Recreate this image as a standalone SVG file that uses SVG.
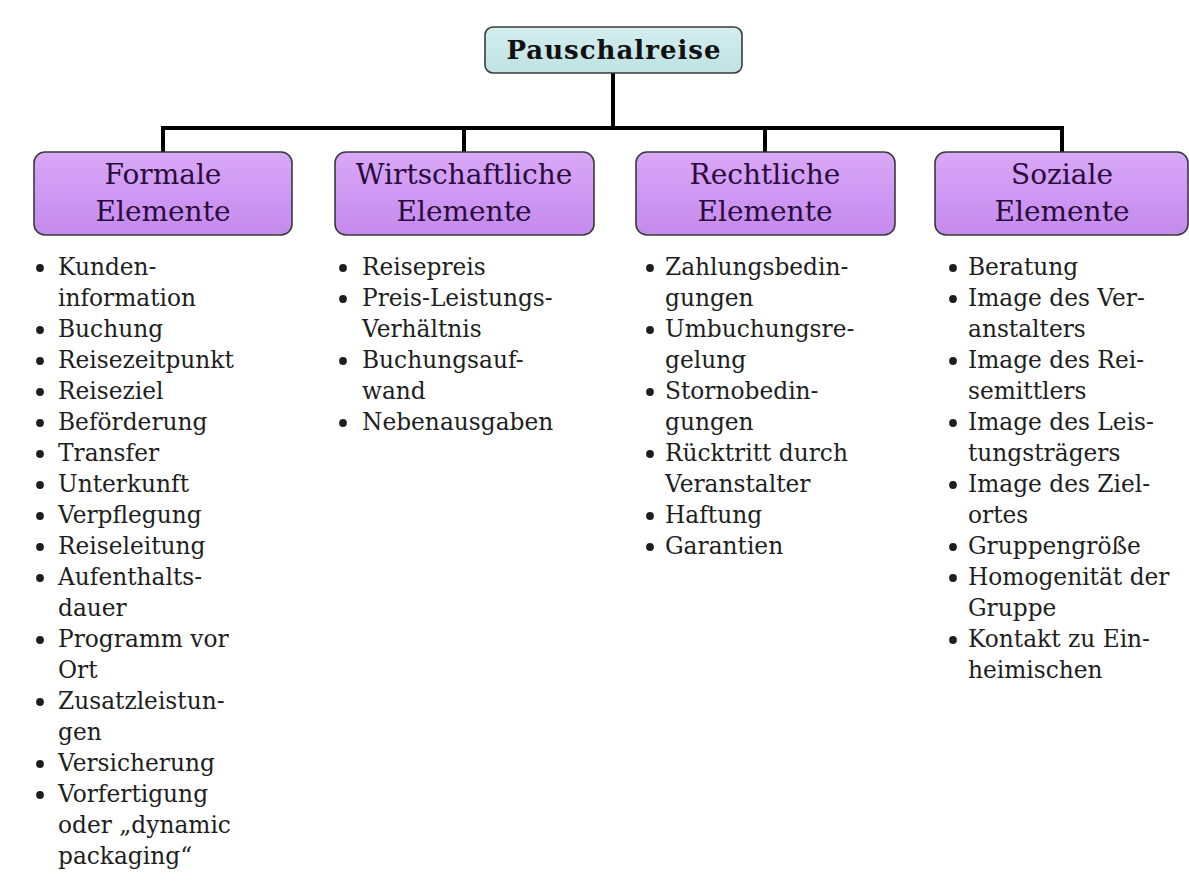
<svg xmlns="http://www.w3.org/2000/svg" xmlns:xlink="http://www.w3.org/1999/xlink" width="1189" height="881" viewBox="0 0 1189 881">
<defs>
<linearGradient id="gTop" x1="0" y1="0" x2="0" y2="1">
<stop offset="0" stop-color="#d4eeee"/><stop offset="1" stop-color="#bfe2e2"/>
</linearGradient>
<linearGradient id="gCat" x1="0" y1="0" x2="0" y2="1">
<stop offset="0" stop-color="#d9a8f7"/><stop offset="0.5" stop-color="#cf98f3"/><stop offset="1" stop-color="#c48aec"/>
</linearGradient>
<circle id="b" r="3.9" fill="#1e1e1e"/>
</defs>
<style>
.top{fill:url(#gTop);stroke:#3a3a3a;stroke-width:1.6}
.cat{fill:url(#gCat);stroke:#3a3a3a;stroke-width:1.6}
.tt{font-family:"DejaVu Serif",serif;font-weight:bold;font-size:26px;letter-spacing:1px;fill:#111;text-anchor:middle}
.ct{font-family:"DejaVu Serif",serif;font-size:28px;fill:#2a0c3c;text-anchor:middle}
.li{font-family:"DejaVu Serif",serif;font-size:23.3px;fill:#1e1e1e}
.con{stroke:#000;stroke-width:4;fill:none}
</style>
<rect width="1189" height="881" fill="#fff"/>
<g id="connectors">
<line class="con" x1="613" y1="73" x2="613" y2="128"/>
<line class="con" x1="161" y1="128" x2="1064" y2="128"/>
<line class="con" x1="163" y1="126" x2="163" y2="152"/>
<line class="con" x1="464" y1="126" x2="464" y2="152"/>
<line class="con" x1="765" y1="126" x2="765" y2="152"/>
<line class="con" x1="1062" y1="126" x2="1062" y2="152"/>
</g>
<g id="pauschalreise">
<rect class="top" x="485" y="27" width="257" height="46" rx="8"/>
<text class="tt" x="614" y="59">Pauschalreise</text>
</g>
<g id="formale">
<rect class="cat" x="34" y="152" width="258" height="83" rx="11"/>
<text class="ct" x="163" y="184">Formale</text>
<text class="ct" x="163" y="221">Elemente</text>
</g>
<g id="wirtschaftliche">
<rect class="cat" x="335" y="152" width="259" height="83" rx="11"/>
<text class="ct" x="464" y="184">Wirtschaftliche</text>
<text class="ct" x="464" y="221">Elemente</text>
</g>
<g id="rechtliche">
<rect class="cat" x="636" y="152" width="259" height="83" rx="11"/>
<text class="ct" x="765" y="184">Rechtliche</text>
<text class="ct" x="765" y="221">Elemente</text>
</g>
<g id="soziale">
<rect class="cat" x="935" y="152" width="253" height="83" rx="11"/>
<text class="ct" x="1062" y="184">Soziale</text>
<text class="ct" x="1062" y="221">Elemente</text>
</g>
<g id="formale-list">
<use xlink:href="#b" x="40" y="268"/><text class="li" x="58" y="275">Kunden-</text>
<text class="li" x="58" y="306">information</text>
<use xlink:href="#b" x="40" y="330"/><text class="li" x="58" y="337">Buchung</text>
<use xlink:href="#b" x="40" y="361"/><text class="li" x="58" y="368">Reisezeitpunkt</text>
<use xlink:href="#b" x="40" y="392"/><text class="li" x="58" y="399">Reiseziel</text>
<use xlink:href="#b" x="40" y="423"/><text class="li" x="58" y="430">Beförderung</text>
<use xlink:href="#b" x="40" y="454"/><text class="li" x="58" y="461">Transfer</text>
<use xlink:href="#b" x="40" y="485"/><text class="li" x="58" y="492">Unterkunft</text>
<use xlink:href="#b" x="40" y="516"/><text class="li" x="58" y="523">Verpflegung</text>
<use xlink:href="#b" x="40" y="547"/><text class="li" x="58" y="554">Reiseleitung</text>
<use xlink:href="#b" x="40" y="578"/><text class="li" x="58" y="585">Aufenthalts-</text>
<text class="li" x="58" y="616">dauer</text>
<use xlink:href="#b" x="40" y="640"/><text class="li" x="58" y="647">Programm vor</text>
<text class="li" x="58" y="678">Ort</text>
<use xlink:href="#b" x="40" y="702"/><text class="li" x="58" y="709">Zusatzleistun-</text>
<text class="li" x="58" y="740">gen</text>
<use xlink:href="#b" x="40" y="764"/><text class="li" x="58" y="771">Versicherung</text>
<use xlink:href="#b" x="40" y="795"/><text class="li" x="58" y="802">Vorfertigung</text>
<text class="li" x="58" y="833">oder „dynamic</text>
<text class="li" x="58" y="864">packaging“</text>
</g>
<g id="wirtschaftliche-list">
<use xlink:href="#b" x="343" y="268"/><text class="li" x="362" y="275">Reisepreis</text>
<use xlink:href="#b" x="343" y="299"/><text class="li" x="362" y="306">Preis-Leistungs-</text>
<text class="li" x="362" y="337">Verhältnis</text>
<use xlink:href="#b" x="343" y="361"/><text class="li" x="362" y="368">Buchungsauf-</text>
<text class="li" x="362" y="399">wand</text>
<use xlink:href="#b" x="343" y="423"/><text class="li" x="362" y="430">Nebenausgaben</text>
</g>
<g id="rechtliche-list">
<use xlink:href="#b" x="650" y="268"/><text class="li" x="665" y="275">Zahlungsbedin-</text>
<text class="li" x="665" y="306">gungen</text>
<use xlink:href="#b" x="650" y="330"/><text class="li" x="665" y="337">Umbuchungsre-</text>
<text class="li" x="665" y="368">gelung</text>
<use xlink:href="#b" x="650" y="392"/><text class="li" x="665" y="399">Stornobedin-</text>
<text class="li" x="665" y="430">gungen</text>
<use xlink:href="#b" x="650" y="454"/><text class="li" x="665" y="461">Rücktritt durch</text>
<text class="li" x="665" y="492">Veranstalter</text>
<use xlink:href="#b" x="650" y="516"/><text class="li" x="665" y="523">Haftung</text>
<use xlink:href="#b" x="650" y="547"/><text class="li" x="665" y="554">Garantien</text>
</g>
<g id="soziale-list">
<use xlink:href="#b" x="953" y="268"/><text class="li" x="968" y="275">Beratung</text>
<use xlink:href="#b" x="953" y="299"/><text class="li" x="968" y="306">Image des Ver-</text>
<text class="li" x="968" y="337">anstalters</text>
<use xlink:href="#b" x="953" y="361"/><text class="li" x="968" y="368">Image des Rei-</text>
<text class="li" x="968" y="399">semittlers</text>
<use xlink:href="#b" x="953" y="423"/><text class="li" x="968" y="430">Image des Leis-</text>
<text class="li" x="968" y="461">tungsträgers</text>
<use xlink:href="#b" x="953" y="485"/><text class="li" x="968" y="492">Image des Ziel-</text>
<text class="li" x="968" y="523">ortes</text>
<use xlink:href="#b" x="953" y="547"/><text class="li" x="968" y="554">Gruppengröße</text>
<use xlink:href="#b" x="953" y="578"/><text class="li" x="968" y="585">Homogenität der</text>
<text class="li" x="968" y="616">Gruppe</text>
<use xlink:href="#b" x="953" y="640"/><text class="li" x="968" y="647">Kontakt zu Ein-</text>
<text class="li" x="968" y="678">heimischen</text>
</g>
</svg>
